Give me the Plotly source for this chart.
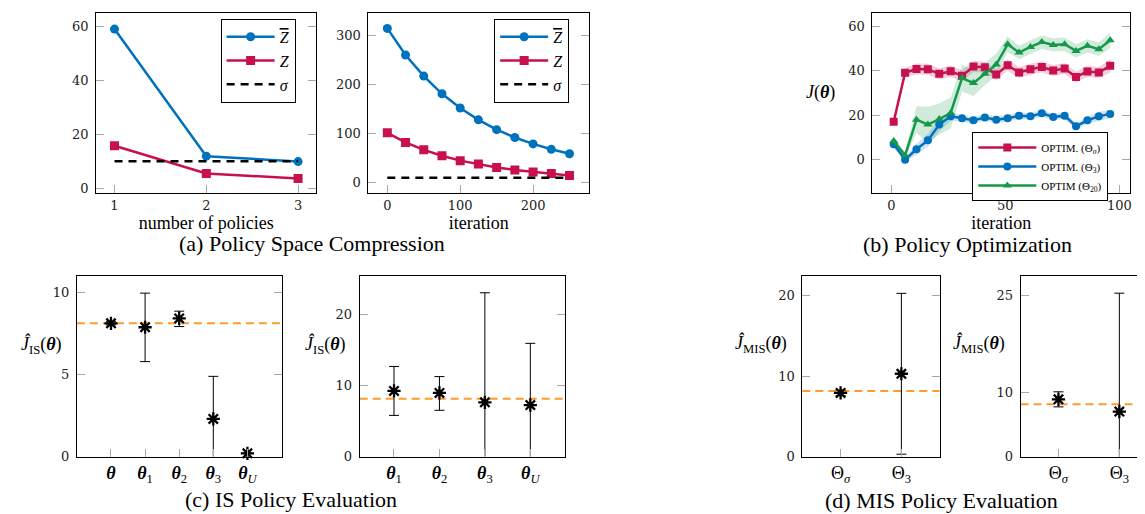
import plotly.graph_objects as go

W, H = 1145, 514

# ---------------- (a) Policy Space Compression ----------------
n_policies = [1, 2, 3]
zbar_policies = [59.1, 11.9, 9.9]
zlow_policies = [15.8, 5.5, 3.6]
sigma_policies = 10

iters_a = [0, 25, 50, 75, 100, 125, 150, 175, 200, 225, 250]
zbar_iters = [314, 260, 217, 181, 152, 128, 108, 92, 79, 68, 59]
zlow_iters = [101.6, 82, 67, 55, 45, 38, 31, 26, 22, 19, 15]
sigma_iters = 10

# ---------------- (b) Policy Optimization ----------------
iters_b = [1, 6, 11, 16, 21, 26, 31, 36, 41, 46, 51, 56, 61, 66, 71, 76, 81, 86, 91, 96]
j_sigma = [17.1, 39.1, 40.8, 40.7, 38.6, 39.8, 37.7, 41.9, 41.6, 38.3,
           42.5, 39.2, 40.7, 41.7, 40.1, 41.0, 37.2, 39.7, 39.2, 42.2]
j_sigma_std = [1.5, 2, 2.5, 2.5, 2.5, 2.5, 2.5, 2.5, 2.5, 2.5,
               2.5, 2.5, 2.5, 2.5, 2.5, 2.5, 2.5, 2.5, 2.5, 3]
j_three = [6.9, 0.0, 4.7, 8.7, 15.8, 19.5, 18.6, 17.7, 19.0, 18.0,
           18.6, 19.8, 19.5, 20.9, 19.2, 19.8, 15.0, 17.7, 19.5, 20.6]
j_three_std = [1.5, 1, 2.5, 3, 3, 2, 1.5, 1.5, 1.5, 1.5,
               1.5, 1.5, 1.5, 1.5, 1.5, 1.5, 1.5, 1.5, 2, 2]
j_twenty = [8.4, 2.0, 18.0, 15.8, 18.3, 21.0, 36.7, 34.5, 38.6, 42.8,
            51.9, 48.2, 50.7, 52.9, 51.6, 51.9, 48.9, 51.2, 49.7, 53.7]
j_twenty_std = [2, 1.5, 6, 8, 7, 7, 6, 6, 5, 5,
                3.5, 3, 3, 3, 3, 3, 3, 3, 3, 3.5]

# ---------------- (c) IS Policy Evaluation ----------------
REF_VALUE = 8.15
is1_labels = ["<b><i>θ</i></b>", "<b><i>θ</i></b><sub>1</sub>", "<b><i>θ</i></b><sub>2</sub>",
              "<b><i>θ</i></b><sub>3</sub>", "<b><i>θ</i></b><sub><i>U</i></sub>"]
is1_vals = [8.14, 7.9, 8.44, 2.3, 0.2]
is1_err_plus = [0.1, 2.08, 0.44, 2.6, 0.0]
is1_err_minus = [0.1, 2.1, 0.5, 2.6, 0.0]

is2_labels = ["<b><i>θ</i></b><sub>1</sub>", "<b><i>θ</i></b><sub>2</sub>",
              "<b><i>θ</i></b><sub>3</sub>", "<b><i>θ</i></b><sub><i>U</i></sub>"]
is2_vals = [9.26, 8.98, 7.65, 7.27]
is2_err_plus = [3.45, 2.3, 15.45, 8.7]
is2_err_minus = [3.45, 2.45, 15.45, 8.7]

# ---------------- (d) MIS Policy Evaluation ----------------
mis1_labels = ["Θ<sub><i>σ</i></sub>", "Θ<sub>3</sub>"]
mis1_vals = [7.92, 10.3]
mis1_err = [0.35, 10.0]

mis2_labels = ["Θ<sub><i>σ</i></sub>", "Θ<sub>3</sub>"]
mis2_vals = [8.9, 7.0]
mis2_err = [1.17, 18.4]

# ---------------- styling ----------------
BLUE = "#0072BD"
RED = "#C8104E"
GREEN = "#14994A"
ORANGE = "#FF9A2E"
SERIF = "Liberation Serif"
TICKFONT = dict(family="DejaVu Serif", size=13, color="#222")


def dx(l, r):
    return [l / W, min(r / W, 1.0)]


def dy(t, b):
    return [1 - b / H, 1 - t / H]


fig = go.Figure()


def line_trace(xs, ys, name, color, symbol, ax, legend, size=9, showlegend=True):
    fig.add_trace(go.Scatter(
        x=xs, y=ys, mode="lines+markers", name=name,
        line=dict(color=color, width=2.5),
        marker=dict(symbol=symbol, size=size, color=color),
        xaxis="x" + ax, yaxis="y" + ax, legend=legend, showlegend=showlegend))


def sigma_trace(xs, s, ax, legend):
    fig.add_trace(go.Scatter(
        x=[xs[0], xs[-1]], y=[s, s], mode="lines", name="<i>σ</i>",
        line=dict(color="black", width=2.5, dash="8px,6px"),
        xaxis="x" + ax, yaxis="y" + ax, legend=legend))


ZBAR = "<span style='text-decoration:overline'><i>Z</i></span>"
ZLOW = "<i>Z</i>"

# panel 1
line_trace(n_policies, zbar_policies, ZBAR, BLUE, "circle", "", "legend")
line_trace(n_policies, zlow_policies, ZLOW, RED, "square", "", "legend")
sigma_trace(n_policies, sigma_policies, "", "legend")

# panel 2
line_trace(iters_a, zbar_iters, ZBAR, BLUE, "circle", "2", "legend2")
line_trace(iters_a, zlow_iters, ZLOW, RED, "square", "2", "legend2")
sigma_trace(iters_a, sigma_iters, "2", "legend2")


# panel 3 bands
def band(xs, ys, sd, rgba):
    upper = [y + s for y, s in zip(ys, sd)]
    lower = [y - s for y, s in zip(ys, sd)]
    fig.add_trace(go.Scatter(
        x=list(xs) + list(xs)[::-1], y=upper + lower[::-1], fill="toself",
        fillcolor=rgba, line=dict(width=0), mode="lines", hoverinfo="skip",
        xaxis="x3", yaxis="y3", showlegend=False))


band(iters_b, j_sigma, j_sigma_std, "rgba(200,16,78,0.2)")
band(iters_b, j_three, j_three_std, "rgba(0,114,189,0.2)")
band(iters_b, j_twenty, j_twenty_std, "rgba(20,153,74,0.2)")
line_trace(iters_b, j_sigma, "OPTIM. (Θ<sub><i>σ</i></sub>)", RED, "square", "3", "legend3", size=8)
line_trace(iters_b, j_three, "OPTIM. (Θ<sub>3</sub>)", BLUE, "circle", "3", "legend3", size=8)
line_trace(iters_b, j_twenty, "OPTIM (Θ<sub>20</sub>)", GREEN, "triangle-up", "3", "legend3", size=8)


def err_panel(vals, plus, minus, ax):
    xs = list(range(len(vals)))
    fig.add_trace(go.Scatter(
        x=xs, y=vals, mode="markers", marker=dict(size=1, opacity=0),
        error_y=dict(type="data", array=plus, arrayminus=minus, symmetric=False,
                     color="black", thickness=1, width=5),
        cliponaxis=True, xaxis="x" + ax, yaxis="y" + ax, showlegend=False))
    fig.add_trace(go.Scatter(
        x=xs, y=vals, mode="markers",
        marker=dict(symbol="asterisk-open", size=11, color="black",
                    line=dict(color="black", width=2.3)),
        cliponaxis=False, xaxis="x" + ax, yaxis="y" + ax, showlegend=False))


err_panel(is1_vals, is1_err_plus, is1_err_minus, "4")
err_panel(is2_vals, is2_err_plus, is2_err_minus, "5")
err_panel(mis1_vals, mis1_err, mis1_err, "6")
err_panel(mis2_vals, mis2_err, mis2_err, "7")

for ax in ["4", "5", "6", "7"]:
    fig.add_shape(type="line", xref="x" + ax + " domain", yref="y" + ax,
                  x0=0, x1=1, y0=REF_VALUE, y1=REF_VALUE,
                  line=dict(color=ORANGE, width=2, dash="8px,5px"), layer="below")

base = dict(showline=True, linecolor="black", linewidth=1, showgrid=False, zeroline=False,
            ticks="inside", ticklen=8, tickcolor="#a8a8a8", tickfont=TICKFONT)


def xax(dom, rng, anchor, **kw):
    d = dict(base, domain=dom, range=rng, anchor=anchor, mirror=True)
    d.update(kw)
    return d


def yax(dom, rng, anchor, mirror="ticks", **kw):
    d = dict(base, domain=dom, range=rng, anchor=anchor, mirror=mirror, ticklabelstandoff=4)
    d.update(kw)
    return d


TOP = dy(5, 188)
BOT = dy(272.7, 455.7)
ttl = dict(font=dict(family=SERIF, size=18, color="black"), standoff=0)
catfont = dict(family=SERIF, size=18, color="black")

legend_style = dict(bgcolor="white", bordercolor="black", borderwidth=1,
                    font=dict(family=SERIF, size=16, color="black"),
                    xanchor="left", yanchor="top", itemwidth=48, tracegroupgap=0)

fig.update_layout(
    width=W, height=H, margin=dict(l=0, r=0, t=0, b=0),
    paper_bgcolor="white", plot_bgcolor="white",
    xaxis=xax(dx(88.3, 309), [0.8, 3.2], "y", tickvals=[1, 2, 3],
              title=dict(text="number of policies", **ttl)),
    yaxis=yax(TOP, [-1.8, 65.1], "x", tickvals=[0, 20, 40, 60]),
    xaxis2=xax(dx(361, 582), [-26, 276.7], "y2", tickvals=[0, 100, 200],
               title=dict(text="iteration", **ttl)),
    yaxis2=yax(TOP, [-21, 345.5], "x2", tickvals=[0, 100, 200, 300]),
    xaxis3=xax(dx(866, 1124), [-8.3, 104.7], "y3", tickvals=[0, 50, 100],
               title=dict(text="iteration", **ttl)),
    yaxis3=yax(TOP, [-15, 66], "x3", tickvals=[0, 20, 40, 60]),
    xaxis4=xax(dx(69, 274), [-1, 5], "y4", tickvals=list(range(len(is1_labels))),
               ticktext=is1_labels, tickfont=catfont),
    yaxis4=yax(BOT, [0, 11], "x4", tickvals=[0, 5, 10]),
    xaxis5=xax(dx(352.3, 558.3), [-0.755, 3.77], "y5", tickvals=list(range(len(is2_labels))),
               ticktext=is2_labels, tickfont=catfont),
    yaxis5=yax(BOT, [0, 25.4], "x5", tickvals=[0, 10, 20]),
    xaxis6=xax(dx(795.7, 933.3), [-0.63, 1.63], "y6", tickvals=list(range(len(mis1_labels))),
               ticktext=mis1_labels, tickfont=catfont),
    yaxis6=yax(BOT, [0, 22.4], "x6", tickvals=[0, 10, 20]),
    xaxis7=xax(dx(1014.3, 1145), [-0.623, 1.52], "y7", tickvals=list(range(len(mis2_labels))),
               ticktext=mis2_labels, tickfont=catfont),
    yaxis7=yax(BOT, [0, 28], "x7", mirror=False, tickvals=[0, 10, 25]),
    legend=dict(legend_style, x=213 / W, y=1 - 11 / H),
    legend2=dict(legend_style, x=487 / W, y=1 - 11 / H),
    legend3=dict(legend_style, x=966 / W, y=1 - 126 / H,
                 font=dict(family=SERIF, size=11, color="black"), itemwidth=58),
)

ann = []
caption_font = dict(family=SERIF, size=22, color="black")
for text, x, y in [("(a) Policy Space Compression", 305, 239),
                   ("(b) Policy Optimization", 961, 240),
                   ("(c) IS Policy Evaluation", 283, 499),
                   ("(d) MIS Policy Evaluation", 935, 500)]:
    ann.append(dict(text=text, x=x / W, y=1 - y / H, xref="paper", yref="paper",
                    showarrow=False, font=caption_font, xanchor="center", yanchor="middle"))

yt_font = dict(family=SERIF, size=18, color="black")
JIS = "<i>Ĵ</i><sub>IS</sub>(<b><i>θ</i></b>)"
JMIS = "<i>Ĵ</i><sub>MIS</sub>(<b><i>θ</i></b>)"
for text, x, y in [("<i>J</i>(<b><i>θ</i></b>)", 814, 86),
                   (JIS, 34, 342), (JIS, 318, 342),
                   (JMIS, 754, 341), (JMIS, 973, 341)]:
    ann.append(dict(text=text, x=x / W, y=1 - y / H, xref="paper", yref="paper",
                    showarrow=False, font=yt_font, xanchor="center", yanchor="middle"))
fig.update_layout(annotations=ann)

fig.write_html("out.html")
